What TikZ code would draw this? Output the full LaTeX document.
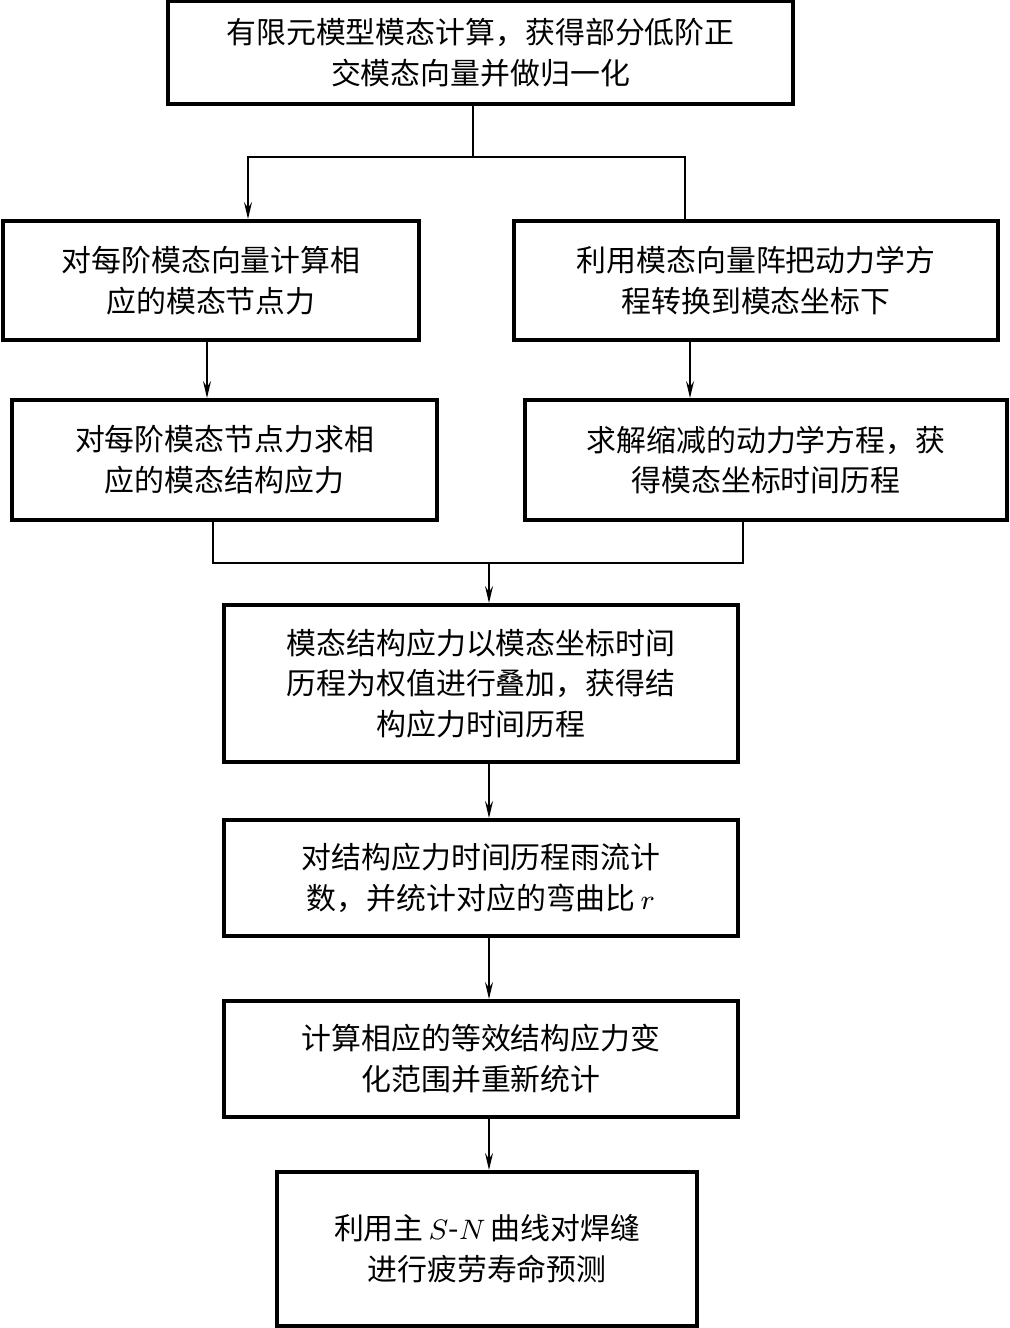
\documentclass[tikz,border=0pt]{standalone}
\usepackage{fontspec}
\usepackage{tikz}
\usetikzlibrary{arrows.meta,positioning}
\newfontfamily\cjk{Noto Sans CJK SC}

\begin{document}
\begin{tikzpicture}[x=0.01cm, y=-0.01cm,
    box/.style={draw=black, line width=1.1pt, inner sep=0pt, align=center,
      font=\cjk\fontsize{8.5}{11.6}\selectfont},
    link/.style={-{Stealth[length=1.7mm, width=0.8mm, inset=0.6mm]}, line width=0.45pt},
    node distance=0.54cm]
\useasboundingbox (0,0) rectangle (1010,1328);
\node[box, minimum width=6.25cm, minimum height=1.03cm] (modal) at (480.5,52.5)
  {有限元模型模态计算，获得部分低阶正\\交模态向量并做归一化};
\node[box, minimum width=4.16cm, minimum height=1.19cm] (force) at (211,280.5)
  {对每阶模态向量计算相\\应的模态节点力};
\node[box, minimum width=4.84cm, minimum height=1.19cm] (transf) at (756,280.5)
  {利用模态向量阵把动力学方\\程转换到模态坐标下};
\node[box, minimum width=4.25cm, minimum height=1.2cm] (stress) at (224.5,460)
  {对每阶模态节点力求相\\应的模态结构应力};
\node[box, minimum width=4.82cm, minimum height=1.2cm] (solve) at (766,460)
  {求解缩减的动力学方程，获\\得模态坐标时间历程};
\node[box, minimum width=5.14cm, minimum height=1.57cm] (superp) at (481,683.5)
  {模态结构应力以模态坐标时间\\历程为权值进行叠加，获得结\\构应力时间历程};
\node[box, minimum width=5.13cm, minimum height=1.16cm, below=of superp] (rain)
  {对结构应力时间历程雨流计\\数，并统计对应的弯曲比\,$r$};
\node[box, minimum width=5.13cm, minimum height=1.16cm, below=0.61cm of rain] (equiv)
  {计算相应的等效结构应力变\\化范围并重新统计};
\node[box, minimum width=4.19cm, minimum height=1.54cm, below=0.51cm of equiv,
  xshift=0.06cm] (life)
  {利用主\,$S$-$N$\,曲线对焊缝\\进行疲劳寿命预测};
% split and join points
\coordinate (fork) at (473,157);
\coordinate (fl) at (248,157);
\coordinate (fr) at (685,157);
\coordinate (jl) at (213,563);
\coordinate (jr) at (743,563);
\coordinate (jm) at (489,563);
\coordinate (rx) at (690,0);
\draw[line width=0.45pt] (fork |- modal.south) -- (fork);
\draw[link, {Stealth[length=1.7mm, width=0.8mm, inset=0.6mm]}-] (fl |- force.north) -- (fl) -- (fr) -- (fr |- transf.north);
\draw[link] (force.south -| 207,0) -- (stress.north -| 207,0);
\draw[link] (transf.south -| rx) -- (solve.north -| rx);
\draw[line width=0.45pt] (jl |- stress.south) -- (jl) -- (jr) -- (jr |- solve.south);
\draw[link] (jm) -- (jm |- superp.north);
\foreach \a/\b in {superp/rain, rain/equiv, equiv/life}
  \draw[link] (\a.south -| jm) -- (\b.north -| jm);
\end{tikzpicture}
\end{document}
